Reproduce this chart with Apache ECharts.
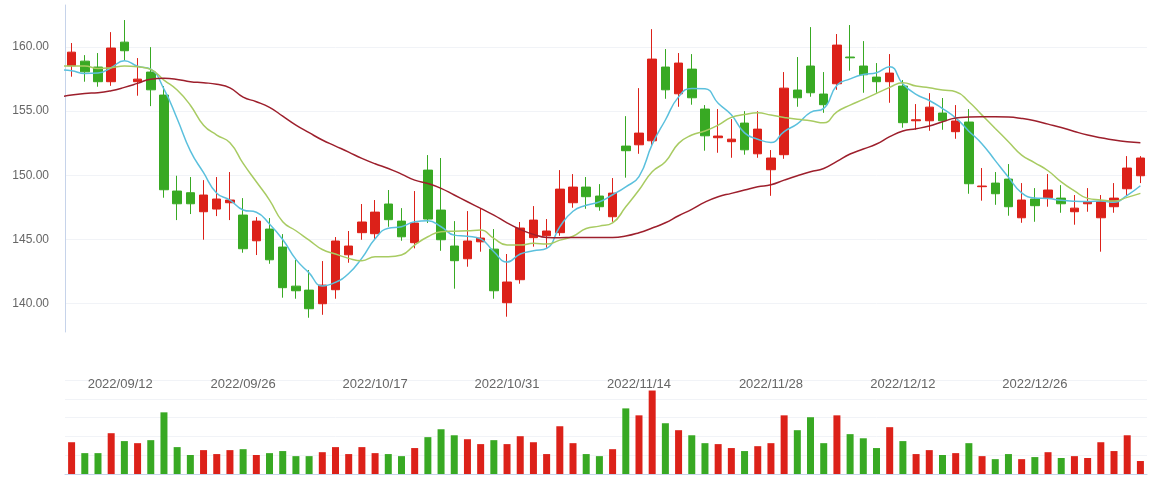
<!DOCTYPE html>
<html><head><meta charset="utf-8">
<script src="https://cdn.jsdelivr.net/npm/echarts@6/dist/echarts.min.js"></script>
<style>html,body{margin:0;padding:0;background:#fff}#c{width:1154px;height:477px}</style>
</head><body><div id="c"></div>
<script>
// first entry is the trading day just before the visible window (only its moving averages are drawn, clipped at the axis)
const dates = ['2022/09/06',
'2022/09/07','2022/09/08','2022/09/09','2022/09/12','2022/09/13','2022/09/14','2022/09/15','2022/09/16','2022/09/19','2022/09/20',
'2022/09/21','2022/09/22','2022/09/23','2022/09/26','2022/09/27','2022/09/28','2022/09/29','2022/09/30','2022/10/10','2022/10/11',
'2022/10/12','2022/10/13','2022/10/14','2022/10/17','2022/10/18','2022/10/19','2022/10/20','2022/10/21','2022/10/24','2022/10/25',
'2022/10/26','2022/10/27','2022/10/28','2022/10/31','2022/11/01','2022/11/02','2022/11/03','2022/11/04','2022/11/07','2022/11/08',
'2022/11/09','2022/11/10','2022/11/11','2022/11/14','2022/11/15','2022/11/16','2022/11/17','2022/11/18','2022/11/21','2022/11/22',
'2022/11/23','2022/11/24','2022/11/25','2022/11/28','2022/11/29','2022/11/30','2022/12/01','2022/12/02','2022/12/05','2022/12/06',
'2022/12/07','2022/12/08','2022/12/09','2022/12/12','2022/12/13','2022/12/14','2022/12/15','2022/12/16','2022/12/19','2022/12/20',
'2022/12/21','2022/12/22','2022/12/23','2022/12/26','2022/12/27','2022/12/28','2022/12/29','2022/12/30','2023/01/03','2023/01/04',
'2023/01/05','2023/01/06'];

const opens = [
158.52,158.88,158.42,157.28,160.36,157.28,158.03,156.24,148.77,148.64,
147.16,147.37,147.86,146.90,144.90,145.81,144.41,141.37,141.06,140.00,
141.09,143.81,145.53,145.45,147.76,146.43,144.75,150.40,147.29,144.49,
143.50,144.82,144.25,140.08,141.87,145.14,145.29,145.53,147.86,149.08,
148.38,146.77,152.27,152.37,152.68,158.42,156.34,158.26,155.15,152.92,
152.61,154.06,151.67,150.43,151.60,156.63,158.50,156.32,157.12,159.20,
158.50,157.64,157.28,156.94,154.24,154.24,154.84,153.39,154.14,149.11,
149.39,149.70,146.69,148.15,148.25,148.22,147.16,147.78,146.69,147.55,
148.95,149.96];

const closes = [
159.58,158.05,157.28,159.90,159.69,157.48,156.65,148.87,147.78,147.78,
148.46,148.15,148.07,144.28,146.43,143.42,141.25,141.01,139.61,141.45,
144.88,144.49,146.36,147.13,146.54,145.21,146.28,146.59,144.98,143.35,
144.88,145.11,141.01,141.69,145.89,146.51,145.66,148.92,149.08,148.33,
147.55,148.61,151.91,153.28,159.04,156.65,158.73,156.03,153.07,153.05,
152.81,151.98,153.59,151.34,156.78,156.03,156.42,155.49,160.13,159.14,
157.82,157.28,157.95,154.09,154.32,155.30,154.24,154.22,149.34,149.16,
148.56,147.55,148.07,147.63,148.85,147.78,147.44,147.94,147.94,148.22,
150.56,151.34];

const lows = [
157.67,157.28,156.89,156.96,158.96,156.19,155.38,148.25,146.51,146.98,
144.98,146.82,146.51,143.97,143.79,143.11,140.47,140.39,138.91,139.14,
140.39,143.19,144.98,145.03,145.99,144.90,144.31,146.28,144.12,141.17,
142.88,144.05,140.39,138.99,141.56,144.44,144.36,145.29,147.47,147.39,
147.24,146.38,149.81,151.67,152.30,155.95,155.33,155.49,151.91,151.75,
151.36,151.60,151.36,148.40,151.28,155.33,156.11,154.86,156.65,158.13,
156.42,156.42,155.64,153.70,153.54,153.46,153.54,152.84,148.56,148.02,
147.70,146.85,146.30,146.38,147.55,147.08,146.15,147.16,144.05,147.08,
148.40,149.39];

const highs = [
160.29,159.35,159.51,161.14,162.08,159.12,159.97,156.94,149.96,149.86,
149.62,149.86,150.25,148.22,146.74,146.67,145.42,143.40,142.62,143.32,
145.19,145.66,147.76,148.07,148.85,147.44,148.77,151.57,151.34,146.43,
147.21,147.37,145.81,143.87,146.36,147.60,146.59,150.40,150.09,149.86,
149.31,149.78,154.60,156.78,161.37,159.82,159.51,159.43,155.46,155.15,
154.37,154.99,154.99,151.96,158.03,159.20,161.53,158.03,160.99,161.69,
160.44,158.73,159.43,157.41,155.54,156.39,156.01,155.46,155.15,150.56,
150.25,150.87,149.39,149.00,150.09,149.23,148.46,149.00,148.46,149.39,
151.49,151.49];

const volumes = [
16900,11100,11100,21700,17500,16400,18000,32800,14300,10100,
12700,10600,12700,13200,10100,11100,12200,9500,9500,11600,
14300,10600,14300,11100,10600,9500,13800,19600,23800,20600,
18500,15900,18000,15900,20100,16900,10600,25400,16400,10600,
9500,13200,34900,31200,44400,27000,23300,20600,16400,15900,
13800,12200,14800,16400,31200,23300,30200,16400,31200,21200,
19000,13800,24900,17500,10600,12700,10100,11100,16400,9500,
7900,10600,7900,9000,11600,8500,9500,8500,16900,12200,
20600,6900];

const ma5 = [158.20,
158.13,157.92,157.95,158.37,158.92,158.48,158.25,156.70,154.40,151.90,
150.20,148.60,148.07,147.30,147.12,146.20,145.00,143.45,142.40,141.38,
141.67,142.35,143.55,145.05,145.88,145.99,146.38,146.46,145.99,145.34,
145.26,145.05,144.05,143.24,143.87,144.12,144.31,145.99,147.20,147.66,
147.93,148.48,149.10,149.90,152.40,154.30,156.10,156.76,156.73,155.60,
154.70,153.30,152.80,152.55,153.40,154.00,154.90,155.20,157.00,157.50,
157.84,157.98,158.45,157.10,156.29,155.82,155.19,154.46,153.43,152.44,
151.14,149.85,148.63,148.23,148.19,148.05,147.98,147.96,147.99,147.90,
148.44,149.18];

const ma10 = [158.50,
158.50,158.50,158.31,158.37,158.50,158.44,158.24,157.41,156.63,155.45,
153.90,153.13,152.53,150.92,149.49,148.07,146.38,145.68,144.95,144.22,
143.87,143.53,143.35,143.66,143.66,143.79,144.57,145.21,145.60,145.65,
145.68,145.73,145.08,144.57,144.57,144.70,144.64,144.95,145.25,145.86,
146.04,146.30,147.55,148.85,150.27,151.05,152.48,153.13,153.44,153.90,
154.50,154.73,154.86,154.68,154.50,154.35,154.24,154.08,154.94,155.46,
155.90,156.37,156.84,157.20,156.94,156.81,156.63,156.50,155.72,154.68,
153.64,152.61,151.57,150.97,150.35,149.49,148.79,148.20,148.08,147.99,
148.28,148.59];

const ma30 = [156.08,
156.24,156.37,156.42,156.58,156.84,157.15,157.48,157.54,157.46,157.28,
157.20,157.08,156.80,156.08,155.72,155.28,154.60,153.90,153.31,152.74,
152.27,151.80,151.31,150.89,150.53,150.09,149.62,149.36,148.98,148.46,
147.94,147.42,146.90,146.30,145.78,145.40,145.16,145.14,145.16,145.16,
145.16,145.16,145.27,145.53,145.89,146.30,146.85,147.34,147.91,148.33,
148.59,148.85,149.10,149.26,149.62,149.96,150.27,150.53,151.08,151.65,
152.04,152.43,153.00,153.44,153.62,153.83,154.16,154.45,154.53,154.55,
154.55,154.53,154.42,154.24,153.98,153.72,153.41,153.13,152.92,152.74,
152.61,152.53];

const upColor = '#dc2119';
const downColor = '#38a923';
const axisBlue = '#c6d3ea';
const splitGray = '#f1f3f7';
const labelColor = '#666';
const firstLabel = dates[4];

const kData = ['-'].concat(opens.map((o, i) => [o, closes[i], lows[i], highs[i]]));
const volData = ['-'].concat(volumes.map((v, i) => ({
  value: v,
  itemStyle: { color: closes[i] >= opens[i] ? upColor : downColor }
})));

const chart = echarts.init(document.getElementById('c'));
chart.setOption({
  animation: false,
  grid: [
    { left: 65, right: 7, top: 5, height: 327 },
    { left: 65, right: 7, top: 380, height: 94 }
  ],
  xAxis: [
    {
      type: 'category', data: dates, gridIndex: 0, boundaryGap: true, min: 1,
      axisLine: { show: false }, axisTick: { show: false }, splitLine: { show: false },
      axisLabel: {
        margin: 46, color: labelColor, fontSize: 13,
        interval: (i) => i % 10 === 4,
        formatter: (v) => v === firstLabel ? '{f|' + v + '}' : v,
        rich: { f: { padding: [0, 0, 0, 18], color: labelColor, fontSize: 13 } }
      }
    },
    {
      type: 'category', data: dates, gridIndex: 1, boundaryGap: true, min: 1,
      axisLine: { show: true, lineStyle: { color: axisBlue } },
      axisTick: { show: false }, axisLabel: { show: false }, splitLine: { show: false }
    }
  ],
  yAxis: [
    {
      gridIndex: 0, scale: true, min: 137.8, max: 163.25, splitNumber: 5,
      axisLine: { show: true, lineStyle: { color: axisBlue } },
      axisTick: { show: false },
      axisLabel: { margin: 16, color: labelColor, fontSize: 12, showMinLabel: false, showMaxLabel: false,
        formatter: (v) => v.toFixed(2) },
      splitLine: { show: true, showMinLine: false, showMaxLine: false, lineStyle: { color: splitGray } }
    },
    {
      gridIndex: 1, splitNumber: 5,
      axisLine: { show: false }, axisTick: { show: false }, axisLabel: { show: false },
      splitLine: { show: true, lineStyle: { color: splitGray } }
    }
  ],
  series: [
    {
      name: 'K', type: 'candlestick', data: kData, xAxisIndex: 0, yAxisIndex: 0, barWidth: 9,
      itemStyle: { color: upColor, color0: downColor, borderColor: upColor, borderColor0: downColor, borderWidth: 1 }
    },
    { name: 'MA5', type: 'line', data: ma5, smooth: true, showSymbol: false, symbol: 'none', clip: true,
      lineStyle: { width: 1.5, color: '#5bc0dd' }, itemStyle: { color: '#5bc0dd' } },
    { name: 'MA10', type: 'line', data: ma10, smooth: true, showSymbol: false, symbol: 'none', clip: true,
      lineStyle: { width: 1.5, color: '#a8cb62' }, itemStyle: { color: '#a8cb62' } },
    { name: 'MA30', type: 'line', data: ma30, smooth: true, showSymbol: false, symbol: 'none', clip: true,
      lineStyle: { width: 1.5, color: '#9d1f2c' }, itemStyle: { color: '#9d1f2c' } },
    { name: 'Volume', type: 'bar', data: volData, xAxisIndex: 1, yAxisIndex: 1, barWidth: 7 }
  ]
});
</script>
</body></html>
